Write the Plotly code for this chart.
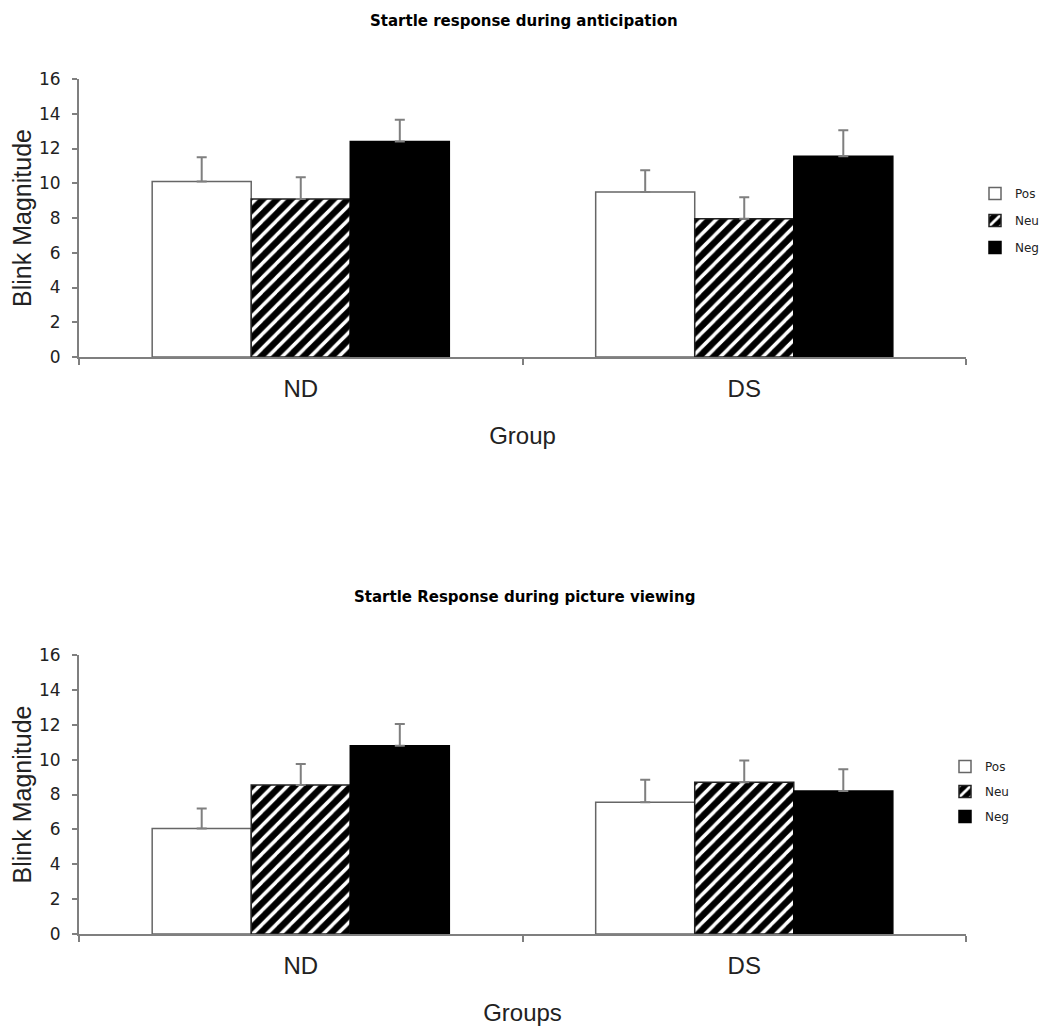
import plotly.graph_objects as go

groups = ["ND", "DS"]
conditions = ["Pos", "Neu", "Neg"]

# Top panel: startle response during anticipation
top_means = {"Pos": [10.1, 9.5], "Neu": [9.1, 7.95], "Neg": [12.4, 11.55]}
top_err = {"Pos": [1.4, 1.25], "Neu": [1.25, 1.25], "Neg": [1.25, 1.5]}

# Bottom panel: startle response during picture viewing
bot_means = {"Pos": [6.05, 7.55], "Neu": [8.55, 8.7], "Neg": [10.8, 8.2]}
bot_err = {"Pos": [1.15, 1.3], "Neu": [1.2, 1.25], "Neg": [1.25, 1.25]}

y_ticks = [0, 2, 4, 6, 8, 10, 12, 14, 16]

# page body has an 8px margin, so the figure is drawn 8px smaller and
# all target pixel positions (in window coordinates) are shifted by OFF
OFF = 8
W, H = 1050 - OFF, 1035 - OFF
L, R, T, B = 79 - OFF, 1050 - 966, 79 - OFF, 1035 - 934
PW, PH = W - L - R, H - T - B
GRAY = "#7f7f7f"
TXT = "#222222"

styles = {
    "Pos": dict(color="white", line=dict(color="#666666", width=1.5)),
    "Neu": dict(color="black", line=dict(color="#222222", width=1.5),
                pattern=dict(shape="/", fgcolor="white", bgcolor="black",
                             size=10, solidity=0.35, fillmode="replace")),
    "Neg": dict(color="black", line=dict(color="black", width=1.5)),
}

fig = go.Figure()

def add_panel(means, errs, xa, ya, legend):
    for c in conditions:
        fig.add_trace(go.Bar(
            x=groups, y=means[c], name=c,
            xaxis=xa, yaxis=ya, legend=legend, legendgroup=legend + c,
            marker=styles[c],
            error_y=dict(type="data", symmetric=False, array=errs[c],
                         arrayminus=[0] * len(groups), color=GRAY,
                         thickness=2, width=5),
        ))

add_panel(top_means, top_err, "x", "y", "legend")
add_panel(bot_means, bot_err, "x2", "y2", "legend2")

def px_y(px):
    # window pixel (from top) -> paper fraction of plot area
    return (H - B - (px - OFF)) / PH

def px_x(px):
    return (px - OFF - L) / PW

def cont_x(px):
    # window pixel -> container (whole figure) fraction
    return (px - OFF) / W

axis_x = dict(
    showline=True, linecolor=GRAY, linewidth=2, showgrid=False,
    ticks="outside", tickson="boundaries", ticklen=6, tickcolor=GRAY, tickwidth=2,
    ticklabelstandoff=9, automargin=False,
    tickfont=dict(family="Liberation Sans, Arial", size=24, color=TXT),
    zeroline=False,
)
axis_y = dict(
    range=[0, 16], tickvals=y_ticks, showline=True, linecolor=GRAY,
    linewidth=2, showgrid=False, ticks="outside", ticklen=5,
    tickcolor=GRAY, tickwidth=2, zeroline=False, automargin=False,
    ticklabelstandoff=8,
    tickfont=dict(family="DejaVu Sans", size=17, color=TXT),
    title=dict(text="Blink Magnitude", standoff=22,
               font=dict(family="Liberation Sans, Arial", size=25, color=TXT)),
)
xtitle_font = dict(family="Liberation Sans, Arial", size=24, color=TXT)
legend_font = dict(family="DejaVu Sans", size=12, color=TXT)

fig.update_layout(
    width=W, height=H,
    margin=dict(l=L, r=R, t=T, b=B, autoexpand=False),
    paper_bgcolor="white", plot_bgcolor="white",
    barmode="group", bargap=0.33, bargroupgap=0,
    showlegend=True,
    xaxis=dict(domain=[0, 1], anchor="y",
               title=dict(text="Group", standoff=26, font=xtitle_font), **axis_x),
    yaxis=dict(domain=[px_y(357), px_y(79)], anchor="x", **axis_y),
    xaxis2=dict(domain=[0, 1], anchor="y2",
                title=dict(text="Groups", standoff=26, font=xtitle_font), **axis_x),
    yaxis2=dict(domain=[px_y(934), px_y(655)], anchor="x2", **axis_y),
    legend=dict(x=cont_x(975), xref="container", y=px_y(179), xanchor="left",
                yanchor="top", font=legend_font, bgcolor="rgba(0,0,0,0)",
                itemwidth=30, tracegroupgap=8),
    legend2=dict(x=cont_x(945), xref="container", y=px_y(752), xanchor="left",
                 yanchor="top", font=legend_font, bgcolor="rgba(0,0,0,0)",
                 itemwidth=30, tracegroupgap=6),
    annotations=[
        dict(text="<b>Startle response during anticipation</b>", x=px_x(524), y=px_y(21),
             xref="paper", yref="paper", showarrow=False, xanchor="center", yanchor="middle",
             font=dict(family="DejaVu Sans", size=15, color="black")),
        dict(text="<b>Startle Response during picture viewing</b>", x=px_x(524), y=px_y(597),
             xref="paper", yref="paper", showarrow=False, xanchor="center", yanchor="middle",
             font=dict(family="DejaVu Sans", size=15, color="black")),
    ],
)

fig.write_html("out.html")
